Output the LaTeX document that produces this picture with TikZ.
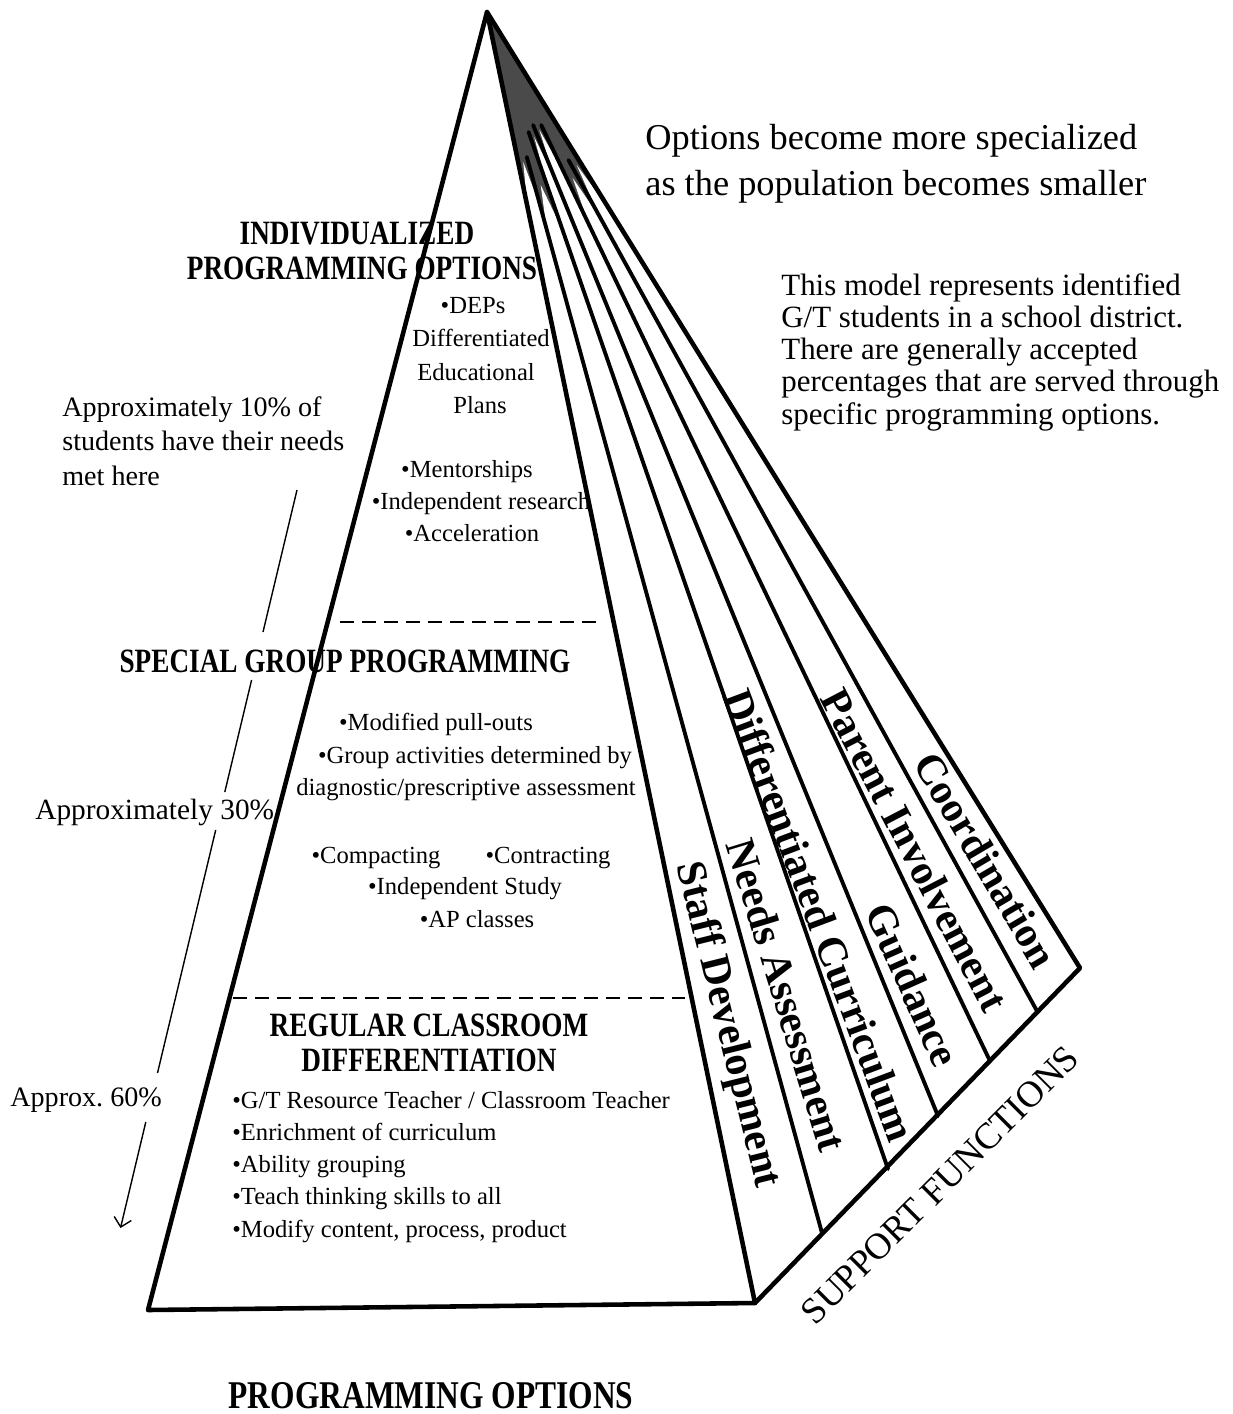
\documentclass[tikz,border=0pt]{standalone}
\usepackage{fontspec}
\setmainfont{Liberation Serif}
\usepackage{graphicx}
\usetikzlibrary{arrows.meta}
\newcommand\tallbf[1]{\scalebox{1}[1.25]{\bfseries #1}}
\definecolor{apexgray}{HTML}{4A4A4A}
\begin{document}
\begin{tikzpicture}[x=0.02cm,y=-0.02cm,
  edge/.style={line width=2.6pt,line join=round,line cap=round},
  stripline/.style={line width=2.2pt,line cap=round},
  dashln/.style={line width=1.1pt,dash pattern=on 8pt off 4.5pt},
  arrowln/.style={line width=0.8pt},
  body/.style={inner sep=0pt,anchor=base,font=\fontsize{14}{18.3}\selectfont},
  bodyl/.style={inner sep=0pt,anchor=base west,align=left,font=\fontsize{14}{18.3}\selectfont},
  side/.style={inner sep=0pt,anchor=base west,align=left,font=\fontsize{16}{19.5}\selectfont},
  title/.style={inner sep=0pt,anchor=base,font=\fontsize{15.5}{18}\selectfont},
  striplabel/.style={inner sep=0pt,anchor=center,font=\bfseries\fontsize{24}{24}\selectfont}
]
\fill[white] (0,0) rectangle (1233,1414);
\useasboundingbox (0,0) rectangle (1233,1414);

% key points
\coordinate (apex) at (487,12);
\coordinate (bl) at (148,1310);
\coordinate (b0) at (755,1303);
\coordinate (b1) at (822,1233);
\coordinate (b2) at (888,1169);
\coordinate (b3) at (938,1116);
\coordinate (b4) at (990,1061);
\coordinate (b5) at (1037,1011);
\coordinate (b6) at (1080,968);
% where the inner strip lines emerge from the dark apex
\coordinate (t1) at (526.8,157);
\coordinate (t2) at (528.6,132);
\coordinate (t3) at (533.1,125);
\coordinate (t4) at (541.2,125);
\coordinate (t5) at (568.5,160);

% dark apex of the support fan
\fill[apexgray] (apex) -- (534.3,240) -- (628.4,240) -- cycle;
% white interiors of the strips, each starting as a slit
\fill[white] (523.2,162) -- (527.5,207) -- (b0) -- (b1) -- (540.5,207) -- cycle;
\fill[white] (540.7,185) -- (546.8,230) -- (b1) -- (b2) -- (562.5,230) -- cycle;
\fill[white] (534.2,137) -- (545.9,182) -- (b2) -- (b3) -- (556.4,182) -- cycle;
\fill[white] (539.4,130) -- (553.5,175) -- (b3) -- (b4) -- (565.2,175) -- cycle;
\fill[white] (572.7,178) -- (588.3,223) -- (b4) -- (b5) -- (603.6,223) -- cycle;
\fill[white] (576.7,165) -- (596.5,210) -- (b5) -- (b6) -- (609.8,210) -- cycle;

% strip boundaries
\draw[stripline] (t1) -- (b1);
\draw[stripline] (t2) -- (b2);
\draw[stripline] (t3) -- (b3);
\draw[stripline] (t4) -- (b4);
\draw[stripline] (t5) -- (b5);
\draw[edge] (apex) -- (b6) -- (b0);
% front face
\draw[edge] (apex) -- (bl) -- (b0) -- cycle;

% level separators
\coordinate (d1a) at (340,622);
\coordinate (d1b) at (600,622);
\coordinate (d2a) at (233,998);
\coordinate (d2b) at (685,998);
\draw[dashln] (d1a) -- (d1b);
\draw[dashln] (d2a) -- (d2b);

% population arrow on the left
\coordinate (p1) at (297,490);
\coordinate (p2) at (263,632);
\coordinate (p3) at (251.6,680);
\coordinate (p4) at (224.8,792);
\coordinate (p5) at (215.7,830);
\coordinate (p6) at (157.5,1073);
\coordinate (p7) at (145.8,1122);
\coordinate (p8) at (120.5,1228);
\draw[arrowln] (p1) -- (p2);
\draw[arrowln] (p3) -- (p4);
\draw[arrowln] (p5) -- (p6);
\draw[arrowln,-{Straight Barb[length=5pt,width=10pt]}] (p7) -- (p8);

% right-hand notes (base anchor = baseline of the last line)
\node[inner sep=0pt,anchor=base west,align=left,font=\fontsize{20.7}{26}\selectfont] (spec) at (645,195)
  {Options become more specialized\\as the population becomes smaller};
\node[inner sep=0pt,anchor=base west,align=left,font=\fontsize{17.6}{18.3}\selectfont] (model) at (781,424)
  {This model represents identified\\G/T students in a school district.\\There are generally accepted\\percentages that are served through\\specific programming options.};

% left-hand notes
\node[side] (left10) at (62,485) {Approximately 10\% of\\students have their needs\\met here};
\node[side,font=\fontsize{16.7}{19.5}\selectfont] (left30) at (35,819) {Approximately 30\%};
\node[side] (left60) at (10,1106) {Approx.\ 60\%};

% top level
\node[title] (ind1) at (357,244) {\tallbf{INDIVIDUALIZED}};
\node[title] (ind2) at (362,279) {\tallbf{PROGRAMMING OPTIONS}};
\node[body] (deps) at (473,313) {•DEPs};
\node[body] (diffr) at (481,346) {Differentiated};
\node[body] (educ) at (476,380) {Educational};
\node[body] (plans) at (480,413) {Plans};
\node[body] (ment) at (467,477) {•Mentorships};
\node[body] (indr) at (481,509) {•Independent research};
\node[body] (accel) at (472,541) {•Acceleration};

% middle level
\node[title] (sgp) at (345,672) {\tallbf{SPECIAL GROUP PROGRAMMING}};
\node[body] (modp) at (436,730) {•Modified pull-outs};
\node[body] (grp) at (475,763) {•Group activities determined by};
\node[body] (diag) at (466,795) {diagnostic/prescriptive assessment};
\node[body] (comp) at (376,863) {•Compacting};
\node[body] (contr) at (548,863) {•Contracting};
\node[body] (indst) at (465,894) {•Independent Study};
\node[body] (apcl) at (477,927) {•AP classes};

% bottom level
\node[title] (reg1) at (429,1036) {\tallbf{REGULAR CLASSROOM}};
\node[title] (reg2) at (429,1071) {\tallbf{DIFFERENTIATION}};
\node[bodyl] (reglist) at (232,1237)
  {•G/T Resource Teacher / Classroom Teacher\\•Enrichment of curriculum\\•Ability grouping\\•Teach thinking skills to all\\•Modify content, process, product};

% support strips
\node[striplabel,rotate=-76] (s1) at (727,1025) {Staff Development};
\node[striplabel,rotate=-73] (s2) at (787,995) {Needs Assessment};
\node[striplabel,rotate=-69.5] (s3) at (820,915) {Differentiated Curriculum};
\node[striplabel,rotate=-66] (s4) at (913,985) {Guidance};
\node[striplabel,rotate=-62.5] (s5) at (915,850) {Parent Involvement};
\node[striplabel,rotate=-59.5] (s6) at (986,860) {Coordination};
\node[inner sep=0pt,rotate=45,font=\fontsize{21}{21}\selectfont] (supp) at (940,1185) {SUPPORT FUNCTIONS};

% caption
\node[inner sep=0pt,anchor=base,font=\fontsize{17.9}{20}\selectfont] (po) at (431,1408) {\tallbf{PROGRAMMING OPTIONS}};
\end{tikzpicture}
\end{document}
